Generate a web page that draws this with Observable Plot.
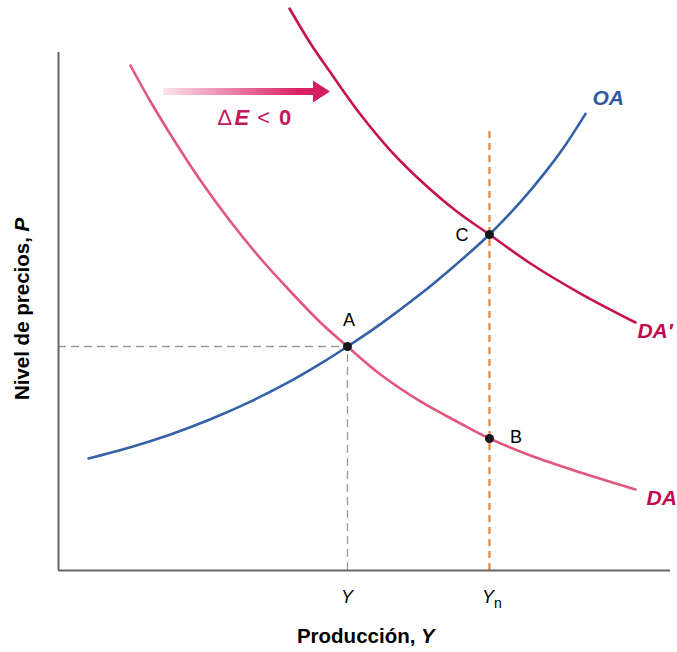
<!DOCTYPE html>
<html>
<head>
<meta charset="utf-8">
<script src="https://cdn.jsdelivr.net/npm/d3@7"></script>
<script src="https://cdn.jsdelivr.net/npm/@observablehq/plot@0.6"></script>
<style>
  html, body { margin: 0; padding: 0; background: #fff; }
  #chart svg { display: block; font-family: "Liberation Sans", Arial, sans-serif; }
</style>
</head>
<body>
<div id="chart"></div>
<script>
// ---- Data (output Y on 0–100, price level P on 0–100) ----
const daY  = [11.76, 15.03, 19.12, 23.20, 28.10, 33.01, 37.91, 42.81, 47.22, 52.61, 59.15, 65.69, 70.42, 77.12, 85.29, 94.28];
const daP  = [97.49, 90.54, 82.63, 75.29, 67.37, 60.23, 53.86, 47.88, 43.24, 37.84, 32.63, 28.38, 25.48, 22.20, 18.92, 15.64];

const da2Y = [37.75, 41.18, 44.44, 49.35, 54.25, 59.15, 64.87, 70.42, 77.12, 85.29, 94.28];
const da2P = [108.49, 101.74, 96.14, 88.03, 81.08, 75.29, 69.50, 64.86, 59.27, 53.47, 47.88];

const oaY  = [4.90, 11.76, 18.30, 24.84, 31.37, 37.91, 42.81, 47.22, 52.61, 59.15, 64.87, 70.42, 75.49, 79.58, 82.84, 86.11];
const oaP  = [21.62, 23.80, 26.27, 29.21, 32.61, 36.54, 39.92, 43.24, 47.57, 53.36, 58.98, 64.86, 71.16, 76.95, 82.16, 88.15];

const pointNames = ["A", "B", "C"];
const pointY = [47.22, 70.42, 70.42];
const pointP = [43.24, 25.48, 64.86];
const labelY = [47.47, 74.75, 65.93];
const labelP = [48.26, 25.77, 64.77];

const tickValues = [47.22, 70.42];
const tickLabels = ["Y", "Y"];
const tickSubs = ["", "n"];

const eqY = 47.22, eqP = 43.24;   // equilibrium A
const ynTop = 85.3;               // top of the Yn dashed line
const arrowFrom = 17.16, arrowTo = 44.44, arrowP = 92.37;

const curveNames = ["OA", "DA′", "DA"];
const curveLabelY = [87.25, 94.6, 96.08];
const curveLabelP = [91.2, 46.2, 14.0];

// ---- Build tables ----
const toRows = (xs, ys) => xs.map((x, i) => ({Y: x, P: ys[i]}));
const da = toRows(daY, daP);
const da2 = toRows(da2Y, da2P);
const oa = toRows(oaY, oaP);
const pts = pointNames.map((n, i) => ({name: n, Y: pointY[i], P: pointP[i], lY: labelY[i], lP: labelP[i]}));
const curveLabels = curveNames.map((n, i) => ({name: n, Y: curveLabelY[i], P: curveLabelP[i]}));

const NS = "http://www.w3.org/2000/svg";
function rich(Yv, Pv, parts, {anchor = "middle", rotate = 0, size = 17, fill = "#000", dx = 0, dy = 0, frameBottom = false} = {}) {
  return (index, scales, values, dims) => {
    const t = document.createElementNS(NS, "text");
    const x = scales.x(Yv) + dx;
    const y = (frameBottom ? dims.height - dims.marginBottom : scales.y(Pv)) + dy;
    t.setAttribute("transform", `translate(${x},${y}) rotate(${rotate})`);
    t.setAttribute("text-anchor", anchor);
    t.setAttribute("dy", "0.35em");
    t.setAttribute("fill", fill);
    t.setAttribute("font-size", size);
    t.setAttribute("font-family", "Liberation Sans, Arial, sans-serif");
    for (const p of parts) {
      const s = document.createElementNS(NS, "tspan");
      s.textContent = p.t;
      if (p.b) s.setAttribute("font-weight", "bold");
      if (p.i) s.setAttribute("font-style", "italic");
      if (p.size) s.setAttribute("font-size", p.size);
      if (p.dx) s.setAttribute("dx", p.dx);
      if (p.dy) s.setAttribute("dy", p.dy);
      t.appendChild(s);
    }
    return t;
  };
}

function arrowMark(index, scales) {
  const g = document.createElementNS(NS, "g");
  const x0 = scales.x(arrowFrom), x1 = scales.x(arrowTo), y = scales.y(arrowP);
  const defs = document.createElementNS(NS, "defs");
  const lg = document.createElementNS(NS, "linearGradient");
  lg.setAttribute("id", "arrowGrad");
  lg.setAttribute("gradientUnits", "userSpaceOnUse");
  lg.setAttribute("x1", x0); lg.setAttribute("x2", x1);
  lg.setAttribute("y1", y); lg.setAttribute("y2", y);
  [["0%", "#fbe3ec"], ["35%", "#ee8fb2"], ["80%", "#d82466"], ["100%", "#d41a5f"]].forEach(([o, c]) => {
    const st = document.createElementNS(NS, "stop");
    st.setAttribute("offset", o); st.setAttribute("stop-color", c);
    lg.appendChild(st);
  });
  defs.appendChild(lg);
  g.appendChild(defs);
  const hl = 17, hw = 11, sw = 3.6;
  const p = document.createElementNS(NS, "path");
  p.setAttribute("d", `M${x0},${y - sw}L${x1 - hl},${y - sw}L${x1 - hl},${y - hw}L${x1},${y}L${x1 - hl},${y + hw}L${x1 - hl},${y + sw}L${x0},${y + sw}Z`);
  p.setAttribute("fill", "url(#arrowGrad)");
  g.appendChild(p);
  return g;
}

const chart = Plot.plot({
  width: 677,
  height: 652,
  marginLeft: 58,
  marginRight: 7,
  marginTop: 0,
  marginBottom: 82,
  x: {domain: [0, 100], range: [58, 670], axis: null},
  y: {domain: [0, 100], range: [570, 52], axis: null},
  marks: [
    // guide lines
    Plot.ruleY([eqP], {x1: 0, x2: eqY, stroke: "#9a9a9a", strokeWidth: 1.3, strokeDasharray: "8,5"}),
    Plot.ruleX([eqY], {y1: 0, y2: eqP, stroke: "#9a9a9a", strokeWidth: 1.3, strokeDasharray: "8,5"}),
    Plot.ruleX([tickValues[1]], {y1: 0, y2: ynTop, stroke: "#e8873a", strokeWidth: 2.2, strokeDasharray: "7,5"}),
    // axes
    Plot.ruleX([0], {y1: 0, y2: 100, stroke: "#666", strokeWidth: 2}),
    Plot.ruleY([0], {x1: 0, x2: 100, stroke: "#666", strokeWidth: 2}),
    // curves
    Plot.line(da, {x: "Y", y: "P", curve: "catmull-rom", stroke: "#e2567f", strokeWidth: 2.6}),
    Plot.line(da2, {x: "Y", y: "P", curve: "catmull-rom", stroke: "#c6124f", strokeWidth: 2.6}),
    Plot.line(oa, {x: "Y", y: "P", curve: "catmull-rom", stroke: "#3461a8", strokeWidth: 2.6}),
    // points
    Plot.dot(pts, {x: "Y", y: "P", r: 4.5, fill: "#15151c", stroke: "none"}),
    Plot.text(pts, {x: "lY", y: "lP", text: "name", fontSize: 18, fill: "#000"}),
    // curve labels
    Plot.text(curveLabels, {x: "Y", y: "P", text: "name", textAnchor: "start", fontSize: 21, fontWeight: "bold", fontStyle: "italic",
      fill: d => d.name === "OA" ? "#2f5a9f" : "#bf0a4f"}),
    // arrow and ΔE < 0
    arrowMark,
    rich(26.14, 87.45, [{t: "∆"}, {t: "E", b: true, i: true, dx: 3}, {t: "<", dx: 8}, {t: "0", b: true, dx: 9}],
      {anchor: "start", size: 22, fill: "#c2185b"}),
    // tick labels
    rich(tickValues[0], 0, [{t: tickLabels[0], i: true}], {frameBottom: true, dy: 27, size: 18}),
    rich(tickValues[1], 0, [{t: tickLabels[1], i: true}, {t: tickSubs[1], size: 14, dy: 5}], {frameBottom: true, dy: 27, dx: 3, size: 18}),
    // axis titles
    rich(50.3, 0, [{t: "Producción, ", b: true}, {t: "Y", b: true, i: true}], {frameBottom: true, dy: 66, size: 20.5}),
    rich(-5.9, 50.4, [{t: "Nivel de precios, ", b: true}, {t: "P", b: true, i: true}], {rotate: -90, size: 20.5})
  ]
});
document.getElementById("chart").appendChild(chart);
</script>
</body>
</html>
